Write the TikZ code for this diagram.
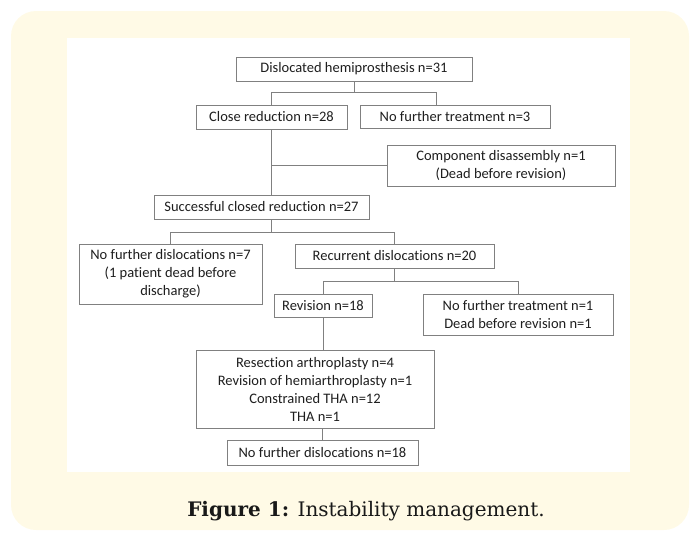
\documentclass[tikz,border=0pt]{standalone}
\usepackage{fontspec}
\setmainfont{Carlito}[Ligatures=NoCommon]
\newfontfamily\capfont{DejaVu Serif}
\usetikzlibrary{positioning, calc}
\definecolor{panelyellow}{HTML}{FFFAE6}
\definecolor{linegray}{HTML}{808080}
\definecolor{textgray}{HTML}{1E1E1E}

\begin{document}
\begin{tikzpicture}[x=1pt, y=-1pt,
    box/.style={draw=linegray, line width=1pt, fill=white, text=textgray,
      align=center, inner sep=0pt, font=\fontsize{14.5}{18}\selectfont},
    link/.style={draw=linegray, line width=1pt}]
    % 背景
    \useasboundingbox (0,0) rectangle (692,538);
    \fill[panelyellow, rounded corners=25pt] (11,11) rectangle (689,530);
    \fill[white] (67,38) rectangle (630,472);

    % 方框
    \node[box, minimum width=236pt, minimum height=24pt] (dis) at (354,69) {Dislocated hemiprosthesis n=31};
    \node[box, minimum width=151pt, minimum height=24pt] (close) at (271.5,117) {Close reduction n=28};
    \node[box, minimum width=190pt, minimum height=23pt] (nft3) at (455,116.5) {No further treatment n=3};
    \node[box, minimum width=228pt, minimum height=41pt] (comp) at (501,165.5) {Component disassembly n=1\\(Dead before revision)};
    \node[box, minimum width=215pt, minimum height=24pt] (succ) at (261.5,207) {Successful closed reduction n=27};
    \node[box, minimum width=183pt, minimum height=60pt] (nfd7) at (170.5,274) {No further dislocations n=7\\(1 patient dead before\\discharge)};
    \node[box, minimum width=199pt, minimum height=24pt] (recur) at (394.5,256) {Recurrent dislocations n=20};
    \node[box, minimum width=98pt, minimum height=23pt] (rev) at (323,305.5) {Revision n=18};
    \node[box, minimum width=190pt, minimum height=41pt] (nft1) at (518,314.5) {No further treatment n=1\\Dead before revision n=1};
    \node[box, minimum width=238pt, minimum height=78pt] (surg) at (315,389) {Resection arthroplasty n=4\\Revision of hemiarthroplasty n=1\\Constrained THA n=12\\THA n=1};
    \node[box, minimum width=191pt, minimum height=25pt] (nfd18) at (322.5,452.5) {No further dislocations n=18};

    % 连线
    \draw[link] (dis.south) -- ++(0,11) coordinate (j1);
    \draw[link] (close.north) |- (j1) -| ([xshift=-19pt]nft3.north);
    \draw[link] (close.south) -- (close.south |- succ.north);
    \draw[link] (comp.west) -- (comp.west -| close.south);
    \draw[link] (close.south |- succ.south) -- ++(0,13) coordinate (j2);
    \draw[link] (nfd7.north) |- (j2) -| (recur.north);
    \draw[link] (recur.south) -- ++(0,13) coordinate (j3);
    \draw[link] (rev.north) |- (j3) -| (nft1.north);
    \draw[link] (rev.south) -- (rev.south |- surg.north);
    \draw[link] (surg.south -| nfd18.north) -- (nfd18.north);

    % 图题
    \node[anchor=base, text=black!90, font=\capfont\fontsize{20}{24}\selectfont] (cap) at (366,516)
      {\textbf{Figure 1:} Instability management.};
\end{tikzpicture}
\end{document}
